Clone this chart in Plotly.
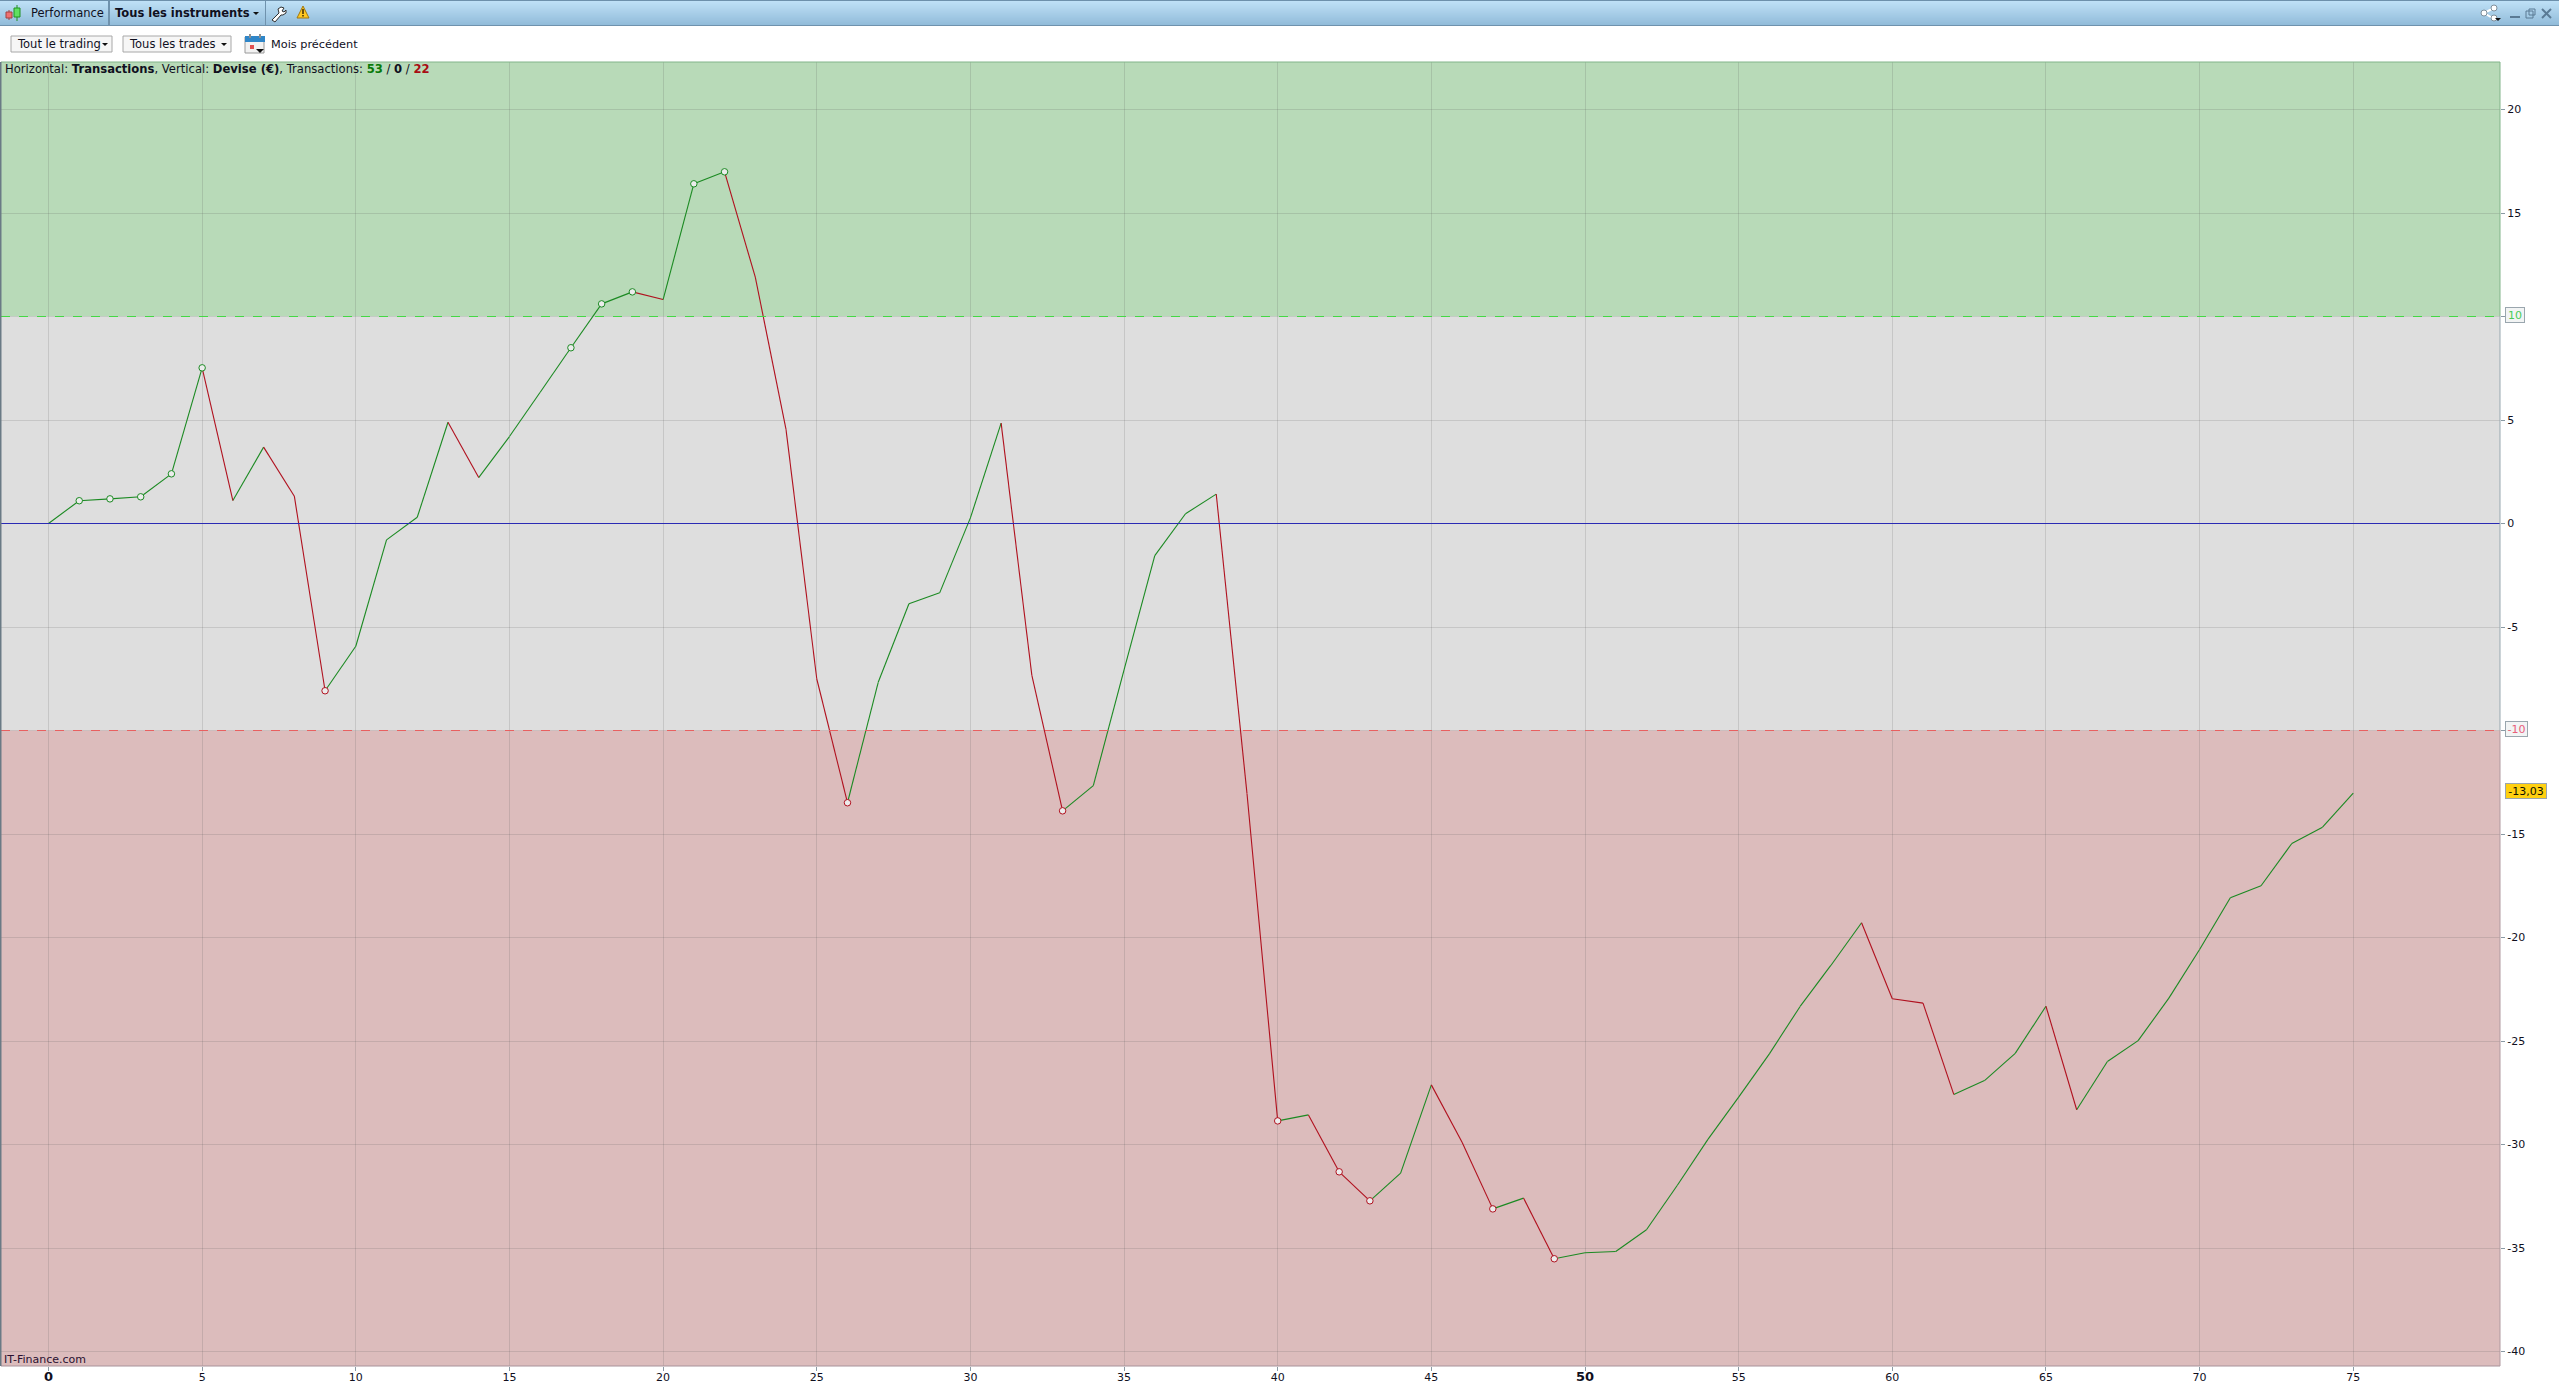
"""Cumulative trading performance chart (IT-Finance window)."""

from __future__ import annotations

import plotly.graph_objects as go

W, H = 2559, 1386
PLOT_LEFT, PLOT_RIGHT, PLOT_TOP, PLOT_BOTTOM = 1, 2500, 62, 1366
ZERO_ROW = 523.5
PX_PER_UNIT = 20.7

# Data
transactions = list(range(76))
balance = [
    0.0, 1.10, 1.19, 1.29, 2.40, 7.52, 1.11, 3.69, 1.32, -8.08,
    -5.93, -0.79, 0.30, 4.89, 2.22, 4.20, 6.34, 8.49, 10.61, 11.19,
    10.82, 16.41, 16.99, 11.90, 4.55, -7.50, -13.49, -7.67, -3.88, -3.35,
    0.27, 4.85, -7.34, -13.88, -12.66, -7.07, -1.55, 0.47, 1.42, -13.04,
    -28.86, -28.57, -31.32, -32.72, -31.38, -27.12, -29.89, -33.11, -32.59, -35.52,
    -35.23, -35.17, -34.12, -31.98, -29.75, -27.71, -25.62, -23.33, -21.35, -19.29,
    -22.96, -23.17, -27.58, -26.91, -25.60, -23.32, -28.32, -25.99, -24.98, -22.93,
    -20.58, -18.08, -17.50, -15.46, -14.67, -13.03,
]
record_highs = [1, 2, 3, 4, 5, 17, 18, 19, 21, 22]
record_lows = [9, 26, 33, 40, 42, 43, 47, 49]
x_ticks = list(range(0, 80, 5))
x_bold_ticks = [0, 50]
y_ticks = list(range(-40, 25, 5))
upper_limit = 10
lower_limit = -10
last_label = "-13,03"
trades_won, trades_flat, trades_lost = 53, 0, 22

GREEN = "#1b8a22"
RED = "#b0101e"
FONT = "DejaVu Sans"


def px(x: float) -> float:
    return x / W


def py(y: float) -> float:
    return 1 - y / H


def rect(x0, y0, x1, y1, fill, line=None, width=1) -> dict:
    return dict(
        type="rect", xref="paper", yref="paper",
        x0=px(x0), x1=px(x1), y0=py(y0), y1=py(y1),
        fillcolor=fill, line=dict(color=line or fill, width=width if line else 0),
    )


def seg(x0, y0, x1, y1, color, width=1, dash="solid") -> dict:
    return dict(
        type="line", xref="paper", yref="paper",
        x0=px(x0), x1=px(x1), y0=py(y0), y1=py(y1),
        line=dict(color=color, width=width, dash=dash),
    )


def poly(points, fill, line=None, width=1) -> dict:
    path = "M " + " L ".join(f"{px(x):.5f},{py(y):.5f}" for x, y in points) + " Z"
    return dict(
        type="path", xref="paper", yref="paper", path=path,
        fillcolor=fill, line=dict(color=line or fill, width=width if line else 0),
    )


def dot(cx, cy, r, fill, line) -> dict:
    return dict(
        type="circle", xref="paper", yref="paper",
        x0=px(cx - r), x1=px(cx + r), y0=py(cy - r), y1=py(cy + r),
        fillcolor=fill, line=dict(color=line, width=1),
    )


def label(x, y, text, size=11, color="#10101e", anchor="left") -> dict:
    return dict(
        xref="paper", yref="paper", x=px(x), y=py(y), text=text, showarrow=False,
        xanchor=anchor, yanchor="middle", borderpad=0,
        font=dict(family=FONT, size=size, color=color),
    )


def value_box(y, text, color, fill, box_width, shift) -> dict:
    return dict(
        xref="paper", yref="y", x=px(2505), y=y, yshift=shift, text=text, showarrow=False,
        xanchor="left", yanchor="middle", width=box_width, height=14, align="center",
        bgcolor=fill, bordercolor="#9aa6ae", borderwidth=1, borderpad=0,
        font=dict(family=FONT, size=11, color=color),
    )


def chrome_shapes() -> list[dict]:
    shapes = []
    # title bar gradient
    top, bottom = (190, 224, 246), (146, 188, 218)
    for i in range(24):
        t = i / 23
        c = [round(a + (b - a) * t) for a, b in zip(top, bottom)]
        shapes.append(rect(0, i + 1, W, i + 2, f"rgb({c[0]},{c[1]},{c[2]})"))
    shapes += [
        rect(0, 0, W, 1, "#6d90ab"),
        rect(0, 25, W, 26, "#6f92ad"),
        rect(108, 1, 110, 25, "#6f92ad"),
        rect(265, 1, 266, 25, "#6f92ad"),
    ]
    # candle icon
    shapes += [
        seg(9, 10, 9, 20, "#a04040"), rect(6, 12, 12, 18, "#f07070", "#a04040"),
        seg(17, 5, 17, 21, "#209020"), rect(14, 8, 20, 17, "#60e060", "#209020"),
    ]
    # wrench icon
    shapes.append(poly(
        [(272, 20), (279, 13), (278, 9), (281, 7), (284, 8), (282, 11), (284, 12), (286, 10),
         (286, 13), (283, 15), (281, 15), (275, 22)],
        "#ffffff", "#303030",
    ))
    # warning icon
    shapes.append(poly([(303, 6), (309, 18), (297, 18)], "#ffc820", "#a07810"))
    shapes.append(rect(302.3, 9, 303.7, 14, "#302000"))
    shapes.append(rect(302.3, 15, 303.7, 16.6, "#302000"))
    # drop-down arrow of the instruments menu
    shapes.append(poly([(253, 12), (259, 12), (256, 15)], "#101010"))
    # buttons
    for x0, x1 in ((11, 112), (123, 231)):
        shapes.append(rect(x0, 36, x1, 52, "#f6f6f6", "#a8a8a8"))
        shapes.append(poly([(x1 - 10, 43), (x1 - 4, 43), (x1 - 7, 46)], "#101010"))
    # calendar icon
    shapes += [
        rect(245, 37, 264, 53, "#f2f2f2", "#9a9a9a"),
        rect(245, 36, 265, 42, "#2f86c8"),
        seg(250, 34, 250, 38, "#909090", 2), seg(260, 34, 260, 38, "#909090", 2),
        rect(250, 45, 254, 49, "#e05050"),
        poly([(256, 49), (264, 49), (260, 53)], "#101010"),
    ]
    # window buttons
    shapes += [
        seg(2484, 13, 2494, 8, "#ffffff", 2), seg(2484, 13, 2494, 19, "#ffffff", 2),
        dot(2484, 13, 3, "#ffffff", "#80909c"),
        dot(2494, 8, 3, "#ffffff", "#80909c"),
        dot(2494, 18, 3, "#ffffff", "#80909c"),
        poly([(2495, 18), (2501, 18), (2498, 21)], "#101010"),
        seg(2510, 17, 2520, 17, "#5a7a94", 2),
        rect(2526, 11, 2533, 18, "rgba(0,0,0,0)", "#5a7a94"),
        rect(2529, 9, 2535, 15, "rgba(0,0,0,0)", "#5a7a94"),
        seg(2542, 9, 2551, 18, "#5a7a94", 2), seg(2551, 9, 2542, 18, "#5a7a94", 2),
    ]
    return shapes


def band(y0, y1, color) -> dict:
    return dict(
        type="rect", xref="paper", yref="y", x0=px(PLOT_LEFT), x1=px(PLOT_RIGHT),
        y0=y0, y1=y1, fillcolor=color, line=dict(width=0), layer="below",
    )


def limit_line(y, color, dash) -> dict:
    return dict(
        type="line", xref="paper", yref="y", x0=px(PLOT_LEFT), x1=px(PLOT_RIGHT),
        y0=y, y1=y, line=dict(color=color, width=1, dash=dash),
    )


# 1 · Up and down moves drawn in their own colours
up_x, up_y, down_x, down_y = [], [], [], []
for i in range(1, len(balance)):
    xs, ys = (up_x, up_y) if balance[i] >= balance[i - 1] else (down_x, down_y)
    xs += [transactions[i - 1], transactions[i], None]
    ys += [balance[i - 1], balance[i], None]

fig = go.Figure()
fig.add_scatter(x=up_x, y=up_y, mode="lines", line=dict(color=GREEN, width=1.1))
fig.add_scatter(x=down_x, y=down_y, mode="lines", line=dict(color=RED, width=1.1))
fig.add_scatter(
    x=record_highs, y=[balance[i] for i in record_highs], mode="markers",
    marker=dict(symbol="circle", size=6.5, color="#ececec", line=dict(color=GREEN, width=1)),
)
fig.add_scatter(
    x=record_lows, y=[balance[i] for i in record_lows], mode="markers",
    marker=dict(symbol="circle", size=6.5, color="#ececec", line=dict(color=RED, width=1)),
)

# 2 · Layout
y_top = (ZERO_ROW - PLOT_TOP) / PX_PER_UNIT
y_bottom = (ZERO_ROW - PLOT_BOTTOM) / PX_PER_UNIT

shapes = chrome_shapes() + [
    band(upper_limit, y_top, "#b8dab8"),
    band(lower_limit, upper_limit, "#dedede"),
    band(y_bottom, lower_limit, "#dcbcbc"),
    limit_line(upper_limit, "#44d844", "dash"),
    limit_line(lower_limit, "#e86060", "dash"),
    limit_line(0, "#2a2ab4", "solid"),
    seg(PLOT_LEFT, PLOT_TOP, PLOT_RIGHT, PLOT_TOP, "#82b48a"),
    seg(PLOT_LEFT, PLOT_BOTTOM, PLOT_RIGHT, PLOT_BOTTOM, "#a8929a"),
    seg(0.5, PLOT_TOP, 0.5, PLOT_BOTTOM, "#6a7a85", 2),
    seg(PLOT_RIGHT, PLOT_TOP, PLOT_RIGHT, 316, "#82b48a"),
    seg(PLOT_RIGHT, 316, PLOT_RIGHT, 730, "#98a8b0"),
    seg(PLOT_RIGHT, 730, PLOT_RIGHT, PLOT_BOTTOM, "#b09aa0"),
]

annotations = [
    label(30, 13, "Performance", 11.5),
    label(114, 13, "<b>Tous les instruments</b>", 11.5),
    label(16, 44, "Tout le trading", 11.5),
    label(128, 44, "Tous les trades", 11.5),
    label(270, 44, "Mois précédent", 11.3),
    label(
        4, 69,
        "Horizontal: <b>Transactions</b>, Vertical: <b>Devise (€)</b>, Transactions: "
        f"<b><span style='color:#0a7a0a'>{trades_won}</span></b> / <b>{trades_flat}</b> / "
        f"<b><span style='color:#a80c14'>{trades_lost}</span></b>",
        11.6,
    ),
    label(3, 1359, "IT-Finance.com", 11, "#2a1030"),
    value_box(upper_limit, str(upper_limit), "#48cc58", "#f2f4f4", 18, 1.5),
    value_box(lower_limit, str(lower_limit), "#e8607a", "#f2f4f4", 21, 1.5),
    value_box(balance[-1], last_label, "#101000", "#ffd010", 40, 2),
]

fig.update_layout(
    width=W, height=H,
    margin=dict(l=0, r=0, t=0, b=0),
    paper_bgcolor="#ffffff",
    plot_bgcolor="rgba(0,0,0,0)",
    showlegend=False,
    hovermode=False,
    font=dict(family=FONT, size=11, color="#10101e"),
    shapes=shapes,
    annotations=annotations,
    xaxis=dict(
        domain=[px(PLOT_LEFT), px(PLOT_RIGHT)],
        range=[(PLOT_LEFT - 48.5) / 30.73, (PLOT_RIGHT - 48.5) / 30.73],
        tickmode="array",
        tickvals=x_ticks,
        ticktext=[
            f"<b><span style='font-size:13px'>{t}</span></b>" if t in x_bold_ticks else str(t)
            for t in x_ticks
        ],
        ticks="outside", ticklen=4, tickcolor="#8a9aa4", tickwidth=1,
        ticklabelstandoff=-3,
        gridcolor="rgba(90,90,90,0.18)", gridwidth=1,
        showline=False, zeroline=False,
        tickfont=dict(family=FONT, size=11, color="#10101e"),
    ),
    yaxis=dict(
        domain=[py(PLOT_BOTTOM), py(PLOT_TOP)],
        range=[y_bottom, y_top],
        side="right", anchor="x",
        tickmode="array",
        tickvals=y_ticks,
        ticktext=["" if t in (upper_limit, lower_limit) else str(t) for t in y_ticks],
        ticks="outside", ticklen=4, tickcolor="#8a9aa4", tickwidth=1,
        gridcolor="rgba(90,90,90,0.18)", gridwidth=1,
        showline=False, zeroline=False,
        tickfont=dict(family=FONT, size=11, color="#10101e"),
    ),
)

fig.write_html(
    "out.html",
    config=dict(displayModeBar=False),
    post_script="document.body.style.margin='0';document.body.style.overflow='hidden';",
)
